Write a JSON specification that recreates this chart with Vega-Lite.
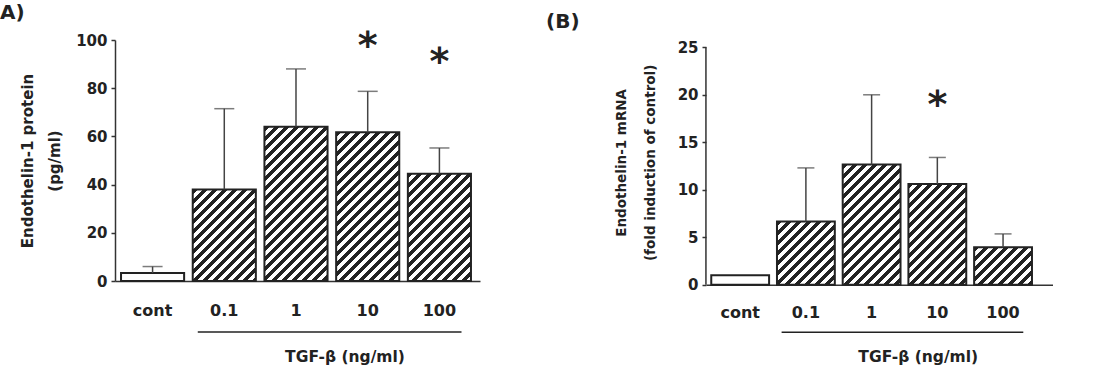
{
  "$schema": "https://vega.github.io/schema/vega-lite/v6.json",
  "padding": {"top": 3, "left": 0, "right": 0, "bottom": 0},
  "background": "white",
  "bounds": "flush",
  "spacing": 226,
  "config": {
    "font": "DejaVu Sans",
    "view": {"stroke": null},
    "axis": {
      "labelFont": "DejaVu Sans", "labelFontWeight": "bold", "labelColor": "#222",
      "titleFont": "DejaVu Sans", "titleFontWeight": "bold", "titleColor": "#222",
      "domainColor": "#333", "domainWidth": 1.5, "tickColor": "#333", "tickWidth": 1.5, "grid": false
    },
    "title": {"font": "DejaVu Sans", "fontSize": 20, "fontWeight": "bold", "color": "#222", "anchor": "start", "frame": "group"}
  },
  "hconcat": [
    {
      "width": 365,
      "height": 241,
      "title": {"text": "A)", "dx": -115, "offset": 5},
      "data": {"values": [
        {"dose": "cont", "mean": 3.3, "upper": 6.0, "sig": null, "sigY": null},
        {"dose": "0.1", "mean": 38.0, "upper": 71.5, "sig": null, "sigY": null},
        {"dose": "1", "mean": 64.0, "upper": 88.0, "sig": null, "sigY": null},
        {"dose": "10", "mean": 61.7, "upper": 78.7, "sig": "*", "sigY": 100},
        {"dose": "100", "mean": 44.5, "upper": 55.2, "sig": "*", "sigY": 93.5}
      ]},
      "layer": [
        {
          "mark": {"type": "bar", "stroke": "#222", "strokeWidth": 2},
          "encoding": {
            "x": {"field": "dose", "type": "nominal", "sort": ["cont", "0.1", "1", "10", "100"],
              "scale": {"domain": ["cont", "0.1", "1", "10", "100"], "paddingInner": 0.12, "paddingOuter": 0.105, "align": 0.4},
              "axis": {"title": null, "labelAngle": 0, "ticks": false, "labelPadding": 21, "labelFontSize": 16}},
            "y": {"field": "mean", "type": "quantitative",
              "scale": {"domain": [0, 100], "nice": false},
              "axis": {"title": ["Endothelin-1  protein", "(pg/ml)"], "values": [0, 20, 40, 60, 80, 100], "tickSize": 4,
                "labelFontSize": 15, "labelPadding": 4, "titleFontSize": 15, "titleLineHeight": 27, "titlePadding": 13}},
            "fill": {
              "condition": [
                {"test": "datum.dose === '0.1'", "value": {"gradient": "linear", "x1": 0, "y1": 0, "x2": 1.275, "y2": 1.851, "stops": [{"offset":0,"color":"#222"},{"offset":0.02,"color":"#222"},{"offset":0.02,"color":"#fff"},{"offset":0.04,"color":"#fff"},{"offset":0.04,"color":"#222"},{"offset":0.06,"color":"#222"},{"offset":0.06,"color":"#fff"},{"offset":0.08,"color":"#fff"},{"offset":0.08,"color":"#222"},{"offset":0.1,"color":"#222"},{"offset":0.1,"color":"#fff"},{"offset":0.12,"color":"#fff"},{"offset":0.12,"color":"#222"},{"offset":0.14,"color":"#222"},{"offset":0.14,"color":"#fff"},{"offset":0.16,"color":"#fff"},{"offset":0.16,"color":"#222"},{"offset":0.18,"color":"#222"},{"offset":0.18,"color":"#fff"},{"offset":0.2,"color":"#fff"},{"offset":0.2,"color":"#222"},{"offset":0.22,"color":"#222"},{"offset":0.22,"color":"#fff"},{"offset":0.24,"color":"#fff"},{"offset":0.24,"color":"#222"},{"offset":0.26,"color":"#222"},{"offset":0.26,"color":"#fff"},{"offset":0.28,"color":"#fff"},{"offset":0.28,"color":"#222"},{"offset":0.3,"color":"#222"},{"offset":0.3,"color":"#fff"},{"offset":0.32,"color":"#fff"},{"offset":0.32,"color":"#222"},{"offset":0.34,"color":"#222"},{"offset":0.34,"color":"#fff"},{"offset":0.36,"color":"#fff"},{"offset":0.36,"color":"#222"},{"offset":0.38,"color":"#222"},{"offset":0.38,"color":"#fff"},{"offset":0.4,"color":"#fff"},{"offset":0.4,"color":"#222"},{"offset":0.42,"color":"#222"},{"offset":0.42,"color":"#fff"},{"offset":0.44,"color":"#fff"},{"offset":0.44,"color":"#222"},{"offset":0.46,"color":"#222"},{"offset":0.46,"color":"#fff"},{"offset":0.48,"color":"#fff"},{"offset":0.48,"color":"#222"},{"offset":0.5,"color":"#222"},{"offset":0.5,"color":"#fff"},{"offset":0.52,"color":"#fff"},{"offset":0.52,"color":"#222"},{"offset":0.54,"color":"#222"},{"offset":0.54,"color":"#fff"},{"offset":0.56,"color":"#fff"},{"offset":0.56,"color":"#222"},{"offset":0.58,"color":"#222"},{"offset":0.58,"color":"#fff"},{"offset":0.6,"color":"#fff"},{"offset":0.6,"color":"#222"},{"offset":0.62,"color":"#222"},{"offset":0.62,"color":"#fff"},{"offset":0.64,"color":"#fff"},{"offset":0.64,"color":"#222"},{"offset":0.66,"color":"#222"},{"offset":0.66,"color":"#fff"},{"offset":0.68,"color":"#fff"},{"offset":0.68,"color":"#222"},{"offset":0.7,"color":"#222"},{"offset":0.7,"color":"#fff"},{"offset":0.72,"color":"#fff"}]}},
                {"test": "datum.dose === '1'", "value": {"gradient": "linear", "x1": 0, "y1": 0, "x2": 0.5683, "y2": 1.3887, "stops": [{"offset":0,"color":"#222"},{"offset":0.02,"color":"#222"},{"offset":0.02,"color":"#fff"},{"offset":0.04,"color":"#fff"},{"offset":0.04,"color":"#222"},{"offset":0.06,"color":"#222"},{"offset":0.06,"color":"#fff"},{"offset":0.08,"color":"#fff"},{"offset":0.08,"color":"#222"},{"offset":0.1,"color":"#222"},{"offset":0.1,"color":"#fff"},{"offset":0.12,"color":"#fff"},{"offset":0.12,"color":"#222"},{"offset":0.14,"color":"#222"},{"offset":0.14,"color":"#fff"},{"offset":0.16,"color":"#fff"},{"offset":0.16,"color":"#222"},{"offset":0.18,"color":"#222"},{"offset":0.18,"color":"#fff"},{"offset":0.2,"color":"#fff"},{"offset":0.2,"color":"#222"},{"offset":0.22,"color":"#222"},{"offset":0.22,"color":"#fff"},{"offset":0.24,"color":"#fff"},{"offset":0.24,"color":"#222"},{"offset":0.26,"color":"#222"},{"offset":0.26,"color":"#fff"},{"offset":0.28,"color":"#fff"},{"offset":0.28,"color":"#222"},{"offset":0.3,"color":"#222"},{"offset":0.3,"color":"#fff"},{"offset":0.32,"color":"#fff"},{"offset":0.32,"color":"#222"},{"offset":0.34,"color":"#222"},{"offset":0.34,"color":"#fff"},{"offset":0.36,"color":"#fff"},{"offset":0.36,"color":"#222"},{"offset":0.38,"color":"#222"},{"offset":0.38,"color":"#fff"},{"offset":0.4,"color":"#fff"},{"offset":0.4,"color":"#222"},{"offset":0.42,"color":"#222"},{"offset":0.42,"color":"#fff"},{"offset":0.44,"color":"#fff"},{"offset":0.44,"color":"#222"},{"offset":0.46,"color":"#222"},{"offset":0.46,"color":"#fff"},{"offset":0.48,"color":"#fff"},{"offset":0.48,"color":"#222"},{"offset":0.5,"color":"#222"},{"offset":0.5,"color":"#fff"},{"offset":0.52,"color":"#fff"},{"offset":0.52,"color":"#222"},{"offset":0.54,"color":"#222"},{"offset":0.54,"color":"#fff"},{"offset":0.56,"color":"#fff"},{"offset":0.56,"color":"#222"},{"offset":0.58,"color":"#222"},{"offset":0.58,"color":"#fff"},{"offset":0.6,"color":"#fff"},{"offset":0.6,"color":"#222"},{"offset":0.62,"color":"#222"},{"offset":0.62,"color":"#fff"},{"offset":0.64,"color":"#fff"},{"offset":0.64,"color":"#222"},{"offset":0.66,"color":"#222"},{"offset":0.66,"color":"#fff"},{"offset":0.68,"color":"#fff"},{"offset":0.68,"color":"#222"},{"offset":0.7,"color":"#222"},{"offset":0.7,"color":"#fff"},{"offset":0.72,"color":"#fff"},{"offset":0.72,"color":"#222"},{"offset":0.74,"color":"#222"},{"offset":0.74,"color":"#fff"},{"offset":0.76,"color":"#fff"},{"offset":0.76,"color":"#222"},{"offset":0.78,"color":"#222"},{"offset":0.78,"color":"#fff"},{"offset":0.8,"color":"#fff"},{"offset":0.8,"color":"#222"},{"offset":0.82,"color":"#222"},{"offset":0.82,"color":"#fff"},{"offset":0.84,"color":"#fff"},{"offset":0.84,"color":"#222"},{"offset":0.86,"color":"#222"},{"offset":0.86,"color":"#fff"},{"offset":0.88,"color":"#fff"},{"offset":0.88,"color":"#222"},{"offset":0.9,"color":"#222"},{"offset":0.9,"color":"#fff"},{"offset":0.92,"color":"#fff"},{"offset":0.92,"color":"#222"},{"offset":0.94,"color":"#222"},{"offset":0.94,"color":"#fff"},{"offset":0.96,"color":"#fff"}]}},
                {"test": "datum.dose === '10'", "value": {"gradient": "linear", "x1": 0, "y1": 0, "x2": 0.6046, "y2": 1.4247, "stops": [{"offset":0,"color":"#222"},{"offset":0.02,"color":"#222"},{"offset":0.02,"color":"#fff"},{"offset":0.04,"color":"#fff"},{"offset":0.04,"color":"#222"},{"offset":0.06,"color":"#222"},{"offset":0.06,"color":"#fff"},{"offset":0.08,"color":"#fff"},{"offset":0.08,"color":"#222"},{"offset":0.1,"color":"#222"},{"offset":0.1,"color":"#fff"},{"offset":0.12,"color":"#fff"},{"offset":0.12,"color":"#222"},{"offset":0.14,"color":"#222"},{"offset":0.14,"color":"#fff"},{"offset":0.16,"color":"#fff"},{"offset":0.16,"color":"#222"},{"offset":0.18,"color":"#222"},{"offset":0.18,"color":"#fff"},{"offset":0.2,"color":"#fff"},{"offset":0.2,"color":"#222"},{"offset":0.22,"color":"#222"},{"offset":0.22,"color":"#fff"},{"offset":0.24,"color":"#fff"},{"offset":0.24,"color":"#222"},{"offset":0.26,"color":"#222"},{"offset":0.26,"color":"#fff"},{"offset":0.28,"color":"#fff"},{"offset":0.28,"color":"#222"},{"offset":0.3,"color":"#222"},{"offset":0.3,"color":"#fff"},{"offset":0.32,"color":"#fff"},{"offset":0.32,"color":"#222"},{"offset":0.34,"color":"#222"},{"offset":0.34,"color":"#fff"},{"offset":0.36,"color":"#fff"},{"offset":0.36,"color":"#222"},{"offset":0.38,"color":"#222"},{"offset":0.38,"color":"#fff"},{"offset":0.4,"color":"#fff"},{"offset":0.4,"color":"#222"},{"offset":0.42,"color":"#222"},{"offset":0.42,"color":"#fff"},{"offset":0.44,"color":"#fff"},{"offset":0.44,"color":"#222"},{"offset":0.46,"color":"#222"},{"offset":0.46,"color":"#fff"},{"offset":0.48,"color":"#fff"},{"offset":0.48,"color":"#222"},{"offset":0.5,"color":"#222"},{"offset":0.5,"color":"#fff"},{"offset":0.52,"color":"#fff"},{"offset":0.52,"color":"#222"},{"offset":0.54,"color":"#222"},{"offset":0.54,"color":"#fff"},{"offset":0.56,"color":"#fff"},{"offset":0.56,"color":"#222"},{"offset":0.58,"color":"#222"},{"offset":0.58,"color":"#fff"},{"offset":0.6,"color":"#fff"},{"offset":0.6,"color":"#222"},{"offset":0.62,"color":"#222"},{"offset":0.62,"color":"#fff"},{"offset":0.64,"color":"#fff"},{"offset":0.64,"color":"#222"},{"offset":0.66,"color":"#222"},{"offset":0.66,"color":"#fff"},{"offset":0.68,"color":"#fff"},{"offset":0.68,"color":"#222"},{"offset":0.7,"color":"#222"},{"offset":0.7,"color":"#fff"},{"offset":0.72,"color":"#fff"},{"offset":0.72,"color":"#222"},{"offset":0.74,"color":"#222"},{"offset":0.74,"color":"#fff"},{"offset":0.76,"color":"#fff"},{"offset":0.76,"color":"#222"},{"offset":0.78,"color":"#222"},{"offset":0.78,"color":"#fff"},{"offset":0.8,"color":"#fff"},{"offset":0.8,"color":"#222"},{"offset":0.82,"color":"#222"},{"offset":0.82,"color":"#fff"},{"offset":0.84,"color":"#fff"},{"offset":0.84,"color":"#222"},{"offset":0.86,"color":"#222"},{"offset":0.86,"color":"#fff"},{"offset":0.88,"color":"#fff"},{"offset":0.88,"color":"#222"},{"offset":0.9,"color":"#222"},{"offset":0.9,"color":"#fff"},{"offset":0.92,"color":"#fff"},{"offset":0.92,"color":"#222"},{"offset":0.94,"color":"#222"},{"offset":0.94,"color":"#fff"},{"offset":0.96,"color":"#fff"}]}},
                {"test": "datum.dose === '100'", "value": {"gradient": "linear", "x1": 0, "y1": 0, "x2": 1.0195, "y2": 1.732, "stops": [{"offset":0,"color":"#222"},{"offset":0.02,"color":"#222"},{"offset":0.02,"color":"#fff"},{"offset":0.04,"color":"#fff"},{"offset":0.04,"color":"#222"},{"offset":0.06,"color":"#222"},{"offset":0.06,"color":"#fff"},{"offset":0.08,"color":"#fff"},{"offset":0.08,"color":"#222"},{"offset":0.1,"color":"#222"},{"offset":0.1,"color":"#fff"},{"offset":0.12,"color":"#fff"},{"offset":0.12,"color":"#222"},{"offset":0.14,"color":"#222"},{"offset":0.14,"color":"#fff"},{"offset":0.16,"color":"#fff"},{"offset":0.16,"color":"#222"},{"offset":0.18,"color":"#222"},{"offset":0.18,"color":"#fff"},{"offset":0.2,"color":"#fff"},{"offset":0.2,"color":"#222"},{"offset":0.22,"color":"#222"},{"offset":0.22,"color":"#fff"},{"offset":0.24,"color":"#fff"},{"offset":0.24,"color":"#222"},{"offset":0.26,"color":"#222"},{"offset":0.26,"color":"#fff"},{"offset":0.28,"color":"#fff"},{"offset":0.28,"color":"#222"},{"offset":0.3,"color":"#222"},{"offset":0.3,"color":"#fff"},{"offset":0.32,"color":"#fff"},{"offset":0.32,"color":"#222"},{"offset":0.34,"color":"#222"},{"offset":0.34,"color":"#fff"},{"offset":0.36,"color":"#fff"},{"offset":0.36,"color":"#222"},{"offset":0.38,"color":"#222"},{"offset":0.38,"color":"#fff"},{"offset":0.4,"color":"#fff"},{"offset":0.4,"color":"#222"},{"offset":0.42,"color":"#222"},{"offset":0.42,"color":"#fff"},{"offset":0.44,"color":"#fff"},{"offset":0.44,"color":"#222"},{"offset":0.46,"color":"#222"},{"offset":0.46,"color":"#fff"},{"offset":0.48,"color":"#fff"},{"offset":0.48,"color":"#222"},{"offset":0.5,"color":"#222"},{"offset":0.5,"color":"#fff"},{"offset":0.52,"color":"#fff"},{"offset":0.52,"color":"#222"},{"offset":0.54,"color":"#222"},{"offset":0.54,"color":"#fff"},{"offset":0.56,"color":"#fff"},{"offset":0.56,"color":"#222"},{"offset":0.58,"color":"#222"},{"offset":0.58,"color":"#fff"},{"offset":0.6,"color":"#fff"},{"offset":0.6,"color":"#222"},{"offset":0.62,"color":"#222"},{"offset":0.62,"color":"#fff"},{"offset":0.64,"color":"#fff"},{"offset":0.64,"color":"#222"},{"offset":0.66,"color":"#222"},{"offset":0.66,"color":"#fff"},{"offset":0.68,"color":"#fff"},{"offset":0.68,"color":"#222"},{"offset":0.7,"color":"#222"},{"offset":0.7,"color":"#fff"},{"offset":0.72,"color":"#fff"}]}}
              ],
              "value": "#fff"
            }
          }
        },
        {
          "mark": {"type": "rule", "color": "#444", "strokeWidth": 1.5},
          "encoding": {
            "x": {"field": "dose", "type": "nominal", "sort": ["cont", "0.1", "1", "10", "100"]},
            "y": {"field": "mean", "type": "quantitative"},
            "y2": {"field": "upper"}
          }
        },
        {
          "mark": {"type": "tick", "color": "#444", "thickness": 1.5, "size": 20},
          "encoding": {
            "x": {"field": "dose", "type": "nominal", "sort": ["cont", "0.1", "1", "10", "100"]},
            "y": {"field": "upper", "type": "quantitative"}
          }
        },
        {
          "mark": {"type": "text", "fontSize": 38, "fontWeight": "bold", "color": "#222", "baseline": "middle", "align": "center", "dy": 7},
          "encoding": {
            "x": {"field": "dose", "type": "nominal", "sort": ["cont", "0.1", "1", "10", "100"]},
            "y": {"field": "sigY", "type": "quantitative"},
            "text": {"field": "sig"}
          }
        },
        {
          "data": {"values": [{}]},
          "mark": {"type": "rule", "color": "#222", "strokeWidth": 1.5},
          "encoding": {
            "x": {"datum": "0.1", "bandPosition": 0.08},
            "x2": {"datum": "100", "bandPosition": 0.85},
            "y": {"datum": -21.2}
          }
        },
        {
          "data": {"values": [{}]},
          "mark": {"type": "text", "text": "TGF-β (ng/ml)", "fontSize": 15.5, "fontWeight": "bold", "color": "#222", "baseline": "middle", "align": "center"},
          "encoding": {
            "x": {"datum": "10", "bandPosition": 0.14},
            "y": {"datum": -31.5}
          }
        }
      ]
    },
    {
      "width": 347,
      "height": 244.7,
      "title": {"text": "(B)", "dx": -160, "offset": 8},
      "data": {"values": [
        {"dose": "cont", "mean": 1.0, "upper": null, "sig": null, "sigY": null},
        {"dose": "0.1", "mean": 6.65, "upper": 12.3, "sig": null, "sigY": null},
        {"dose": "1", "mean": 12.65, "upper": 20.0, "sig": null, "sigY": null},
        {"dose": "10", "mean": 10.6, "upper": 13.4, "sig": "*", "sigY": 19.6},
        {"dose": "100", "mean": 3.95, "upper": 5.35, "sig": null, "sigY": null}
      ]},
      "layer": [
        {
          "mark": {"type": "bar", "stroke": "#222", "strokeWidth": 2},
          "encoding": {
            "x": {"field": "dose", "type": "nominal", "sort": ["cont", "0.1", "1", "10", "100"],
              "scale": {"domain": ["cont", "0.1", "1", "10", "100"], "paddingInner": 0.12, "paddingOuter": 0.2, "align": 0.2},
              "axis": {"title": null, "labelAngle": 0, "ticks": false, "labelPadding": 20, "labelFontSize": 16}},
            "y": {"field": "mean", "type": "quantitative",
              "scale": {"domain": [0, 25.77], "nice": false},
              "axis": {"title": ["Endothelin-1 mRNA", "(fold induction of control)"], "values": [0, 5, 10, 15, 20, 25], "tickSize": 4, "domain": false,
                "labelFontSize": 15, "labelPadding": 4, "titleFontSize": 13.5, "titleLineHeight": 29, "titlePadding": 20}},
            "fill": {
              "condition": [
                {"test": "datum.dose === '0.1'", "value": {"gradient": "linear", "x1": 0, "y1": 0, "x2": 1.9768, "y2": 2.1546, "stops": [{"offset":0,"color":"#222"},{"offset":0.02,"color":"#222"},{"offset":0.02,"color":"#fff"},{"offset":0.04,"color":"#fff"},{"offset":0.04,"color":"#222"},{"offset":0.06,"color":"#222"},{"offset":0.06,"color":"#fff"},{"offset":0.08,"color":"#fff"},{"offset":0.08,"color":"#222"},{"offset":0.1,"color":"#222"},{"offset":0.1,"color":"#fff"},{"offset":0.12,"color":"#fff"},{"offset":0.12,"color":"#222"},{"offset":0.14,"color":"#222"},{"offset":0.14,"color":"#fff"},{"offset":0.16,"color":"#fff"},{"offset":0.16,"color":"#222"},{"offset":0.18,"color":"#222"},{"offset":0.18,"color":"#fff"},{"offset":0.2,"color":"#fff"},{"offset":0.2,"color":"#222"},{"offset":0.22,"color":"#222"},{"offset":0.22,"color":"#fff"},{"offset":0.24,"color":"#fff"},{"offset":0.24,"color":"#222"},{"offset":0.26,"color":"#222"},{"offset":0.26,"color":"#fff"},{"offset":0.28,"color":"#fff"},{"offset":0.28,"color":"#222"},{"offset":0.3,"color":"#222"},{"offset":0.3,"color":"#fff"},{"offset":0.32,"color":"#fff"},{"offset":0.32,"color":"#222"},{"offset":0.34,"color":"#222"},{"offset":0.34,"color":"#fff"},{"offset":0.36,"color":"#fff"},{"offset":0.36,"color":"#222"},{"offset":0.38,"color":"#222"},{"offset":0.38,"color":"#fff"},{"offset":0.4,"color":"#fff"},{"offset":0.4,"color":"#222"},{"offset":0.42,"color":"#222"},{"offset":0.42,"color":"#fff"},{"offset":0.44,"color":"#fff"},{"offset":0.44,"color":"#222"},{"offset":0.46,"color":"#222"},{"offset":0.46,"color":"#fff"},{"offset":0.48,"color":"#fff"},{"offset":0.48,"color":"#222"},{"offset":0.5,"color":"#222"},{"offset":0.5,"color":"#fff"},{"offset":0.52,"color":"#fff"},{"offset":0.52,"color":"#222"},{"offset":0.54,"color":"#222"},{"offset":0.54,"color":"#fff"},{"offset":0.56,"color":"#fff"},{"offset":0.56,"color":"#222"},{"offset":0.58,"color":"#222"},{"offset":0.58,"color":"#fff"},{"offset":0.6,"color":"#fff"},{"offset":0.6,"color":"#222"},{"offset":0.62,"color":"#222"},{"offset":0.62,"color":"#fff"},{"offset":0.64,"color":"#fff"},{"offset":0.64,"color":"#222"},{"offset":0.66,"color":"#222"},{"offset":0.66,"color":"#fff"},{"offset":0.68,"color":"#fff"},{"offset":0.68,"color":"#222"},{"offset":0.7,"color":"#222"},{"offset":0.7,"color":"#fff"},{"offset":0.72,"color":"#fff"}]}},
                {"test": "datum.dose === '1'", "value": {"gradient": "linear", "x1": 0, "y1": 0, "x2": 0.8156, "y2": 1.6919, "stops": [{"offset":0,"color":"#222"},{"offset":0.02,"color":"#222"},{"offset":0.02,"color":"#fff"},{"offset":0.04,"color":"#fff"},{"offset":0.04,"color":"#222"},{"offset":0.06,"color":"#222"},{"offset":0.06,"color":"#fff"},{"offset":0.08,"color":"#fff"},{"offset":0.08,"color":"#222"},{"offset":0.1,"color":"#222"},{"offset":0.1,"color":"#fff"},{"offset":0.12,"color":"#fff"},{"offset":0.12,"color":"#222"},{"offset":0.14,"color":"#222"},{"offset":0.14,"color":"#fff"},{"offset":0.16,"color":"#fff"},{"offset":0.16,"color":"#222"},{"offset":0.18,"color":"#222"},{"offset":0.18,"color":"#fff"},{"offset":0.2,"color":"#fff"},{"offset":0.2,"color":"#222"},{"offset":0.22,"color":"#222"},{"offset":0.22,"color":"#fff"},{"offset":0.24,"color":"#fff"},{"offset":0.24,"color":"#222"},{"offset":0.26,"color":"#222"},{"offset":0.26,"color":"#fff"},{"offset":0.28,"color":"#fff"},{"offset":0.28,"color":"#222"},{"offset":0.3,"color":"#222"},{"offset":0.3,"color":"#fff"},{"offset":0.32,"color":"#fff"},{"offset":0.32,"color":"#222"},{"offset":0.34,"color":"#222"},{"offset":0.34,"color":"#fff"},{"offset":0.36,"color":"#fff"},{"offset":0.36,"color":"#222"},{"offset":0.38,"color":"#222"},{"offset":0.38,"color":"#fff"},{"offset":0.4,"color":"#fff"},{"offset":0.4,"color":"#222"},{"offset":0.42,"color":"#222"},{"offset":0.42,"color":"#fff"},{"offset":0.44,"color":"#fff"},{"offset":0.44,"color":"#222"},{"offset":0.46,"color":"#222"},{"offset":0.46,"color":"#fff"},{"offset":0.48,"color":"#fff"},{"offset":0.48,"color":"#222"},{"offset":0.5,"color":"#222"},{"offset":0.5,"color":"#fff"},{"offset":0.52,"color":"#fff"},{"offset":0.52,"color":"#222"},{"offset":0.54,"color":"#222"},{"offset":0.54,"color":"#fff"},{"offset":0.56,"color":"#fff"},{"offset":0.56,"color":"#222"},{"offset":0.58,"color":"#222"},{"offset":0.58,"color":"#fff"},{"offset":0.6,"color":"#fff"},{"offset":0.6,"color":"#222"},{"offset":0.62,"color":"#222"},{"offset":0.62,"color":"#fff"},{"offset":0.64,"color":"#fff"},{"offset":0.64,"color":"#222"},{"offset":0.66,"color":"#222"},{"offset":0.66,"color":"#fff"},{"offset":0.68,"color":"#fff"},{"offset":0.68,"color":"#222"},{"offset":0.7,"color":"#222"},{"offset":0.7,"color":"#fff"},{"offset":0.72,"color":"#fff"},{"offset":0.72,"color":"#222"},{"offset":0.74,"color":"#222"},{"offset":0.74,"color":"#fff"},{"offset":0.76,"color":"#fff"},{"offset":0.76,"color":"#222"},{"offset":0.78,"color":"#222"},{"offset":0.78,"color":"#fff"},{"offset":0.8,"color":"#fff"},{"offset":0.8,"color":"#222"},{"offset":0.82,"color":"#222"},{"offset":0.82,"color":"#fff"},{"offset":0.84,"color":"#fff"}]}},
                {"test": "datum.dose === '10'", "value": {"gradient": "linear", "x1": 0, "y1": 0, "x2": 1.0751, "y2": 1.8693, "stops": [{"offset":0,"color":"#222"},{"offset":0.02,"color":"#222"},{"offset":0.02,"color":"#fff"},{"offset":0.04,"color":"#fff"},{"offset":0.04,"color":"#222"},{"offset":0.06,"color":"#222"},{"offset":0.06,"color":"#fff"},{"offset":0.08,"color":"#fff"},{"offset":0.08,"color":"#222"},{"offset":0.1,"color":"#222"},{"offset":0.1,"color":"#fff"},{"offset":0.12,"color":"#fff"},{"offset":0.12,"color":"#222"},{"offset":0.14,"color":"#222"},{"offset":0.14,"color":"#fff"},{"offset":0.16,"color":"#fff"},{"offset":0.16,"color":"#222"},{"offset":0.18,"color":"#222"},{"offset":0.18,"color":"#fff"},{"offset":0.2,"color":"#fff"},{"offset":0.2,"color":"#222"},{"offset":0.22,"color":"#222"},{"offset":0.22,"color":"#fff"},{"offset":0.24,"color":"#fff"},{"offset":0.24,"color":"#222"},{"offset":0.26,"color":"#222"},{"offset":0.26,"color":"#fff"},{"offset":0.28,"color":"#fff"},{"offset":0.28,"color":"#222"},{"offset":0.3,"color":"#222"},{"offset":0.3,"color":"#fff"},{"offset":0.32,"color":"#fff"},{"offset":0.32,"color":"#222"},{"offset":0.34,"color":"#222"},{"offset":0.34,"color":"#fff"},{"offset":0.36,"color":"#fff"},{"offset":0.36,"color":"#222"},{"offset":0.38,"color":"#222"},{"offset":0.38,"color":"#fff"},{"offset":0.4,"color":"#fff"},{"offset":0.4,"color":"#222"},{"offset":0.42,"color":"#222"},{"offset":0.42,"color":"#fff"},{"offset":0.44,"color":"#fff"},{"offset":0.44,"color":"#222"},{"offset":0.46,"color":"#222"},{"offset":0.46,"color":"#fff"},{"offset":0.48,"color":"#fff"},{"offset":0.48,"color":"#222"},{"offset":0.5,"color":"#222"},{"offset":0.5,"color":"#fff"},{"offset":0.52,"color":"#fff"},{"offset":0.52,"color":"#222"},{"offset":0.54,"color":"#222"},{"offset":0.54,"color":"#fff"},{"offset":0.56,"color":"#fff"},{"offset":0.56,"color":"#222"},{"offset":0.58,"color":"#222"},{"offset":0.58,"color":"#fff"},{"offset":0.6,"color":"#fff"},{"offset":0.6,"color":"#222"},{"offset":0.62,"color":"#222"},{"offset":0.62,"color":"#fff"},{"offset":0.64,"color":"#fff"},{"offset":0.64,"color":"#222"},{"offset":0.66,"color":"#222"},{"offset":0.66,"color":"#fff"},{"offset":0.68,"color":"#fff"},{"offset":0.68,"color":"#222"},{"offset":0.7,"color":"#222"},{"offset":0.7,"color":"#fff"},{"offset":0.72,"color":"#fff"}]}},
                {"test": "datum.dose === '100'", "value": {"gradient": "linear", "x1": 0, "y1": 0, "x2": 3.0488, "y2": 1.9728, "stops": [{"offset":0,"color":"#222"},{"offset":0.02,"color":"#222"},{"offset":0.02,"color":"#fff"},{"offset":0.04,"color":"#fff"},{"offset":0.04,"color":"#222"},{"offset":0.06,"color":"#222"},{"offset":0.06,"color":"#fff"},{"offset":0.08,"color":"#fff"},{"offset":0.08,"color":"#222"},{"offset":0.1,"color":"#222"},{"offset":0.1,"color":"#fff"},{"offset":0.12,"color":"#fff"},{"offset":0.12,"color":"#222"},{"offset":0.14,"color":"#222"},{"offset":0.14,"color":"#fff"},{"offset":0.16,"color":"#fff"},{"offset":0.16,"color":"#222"},{"offset":0.18,"color":"#222"},{"offset":0.18,"color":"#fff"},{"offset":0.2,"color":"#fff"},{"offset":0.2,"color":"#222"},{"offset":0.22,"color":"#222"},{"offset":0.22,"color":"#fff"},{"offset":0.24,"color":"#fff"},{"offset":0.24,"color":"#222"},{"offset":0.26,"color":"#222"},{"offset":0.26,"color":"#fff"},{"offset":0.28,"color":"#fff"},{"offset":0.28,"color":"#222"},{"offset":0.3,"color":"#222"},{"offset":0.3,"color":"#fff"},{"offset":0.32,"color":"#fff"},{"offset":0.32,"color":"#222"},{"offset":0.34,"color":"#222"},{"offset":0.34,"color":"#fff"},{"offset":0.36,"color":"#fff"},{"offset":0.36,"color":"#222"},{"offset":0.38,"color":"#222"},{"offset":0.38,"color":"#fff"},{"offset":0.4,"color":"#fff"},{"offset":0.4,"color":"#222"},{"offset":0.42,"color":"#222"},{"offset":0.42,"color":"#fff"},{"offset":0.44,"color":"#fff"},{"offset":0.44,"color":"#222"},{"offset":0.46,"color":"#222"},{"offset":0.46,"color":"#fff"},{"offset":0.48,"color":"#fff"}]}}
              ],
              "value": "#fff"
            }
          }
        },
        {
          "data": {"values": [{}]},
          "mark": {"type": "rule", "color": "#333", "strokeWidth": 1.5},
          "encoding": {
            "x": {"datum": "cont", "bandPosition": -0.092},
            "y": {"datum": 0},
            "y2": {"datum": 25}
          }
        },
        {
          "mark": {"type": "rule", "color": "#444", "strokeWidth": 1.5},
          "encoding": {
            "x": {"field": "dose", "type": "nominal", "sort": ["cont", "0.1", "1", "10", "100"]},
            "y": {"field": "mean", "type": "quantitative"},
            "y2": {"field": "upper"}
          }
        },
        {
          "mark": {"type": "tick", "color": "#444", "thickness": 1.5, "size": 17},
          "encoding": {
            "x": {"field": "dose", "type": "nominal", "sort": ["cont", "0.1", "1", "10", "100"]},
            "y": {"field": "upper", "type": "quantitative"}
          }
        },
        {
          "mark": {"type": "text", "fontSize": 38, "fontWeight": "bold", "color": "#222", "baseline": "middle", "align": "center", "dy": 7},
          "encoding": {
            "x": {"field": "dose", "type": "nominal", "sort": ["cont", "0.1", "1", "10", "100"]},
            "y": {"field": "sigY", "type": "quantitative"},
            "text": {"field": "sig"}
          }
        },
        {
          "data": {"values": [{}]},
          "mark": {"type": "rule", "color": "#222", "strokeWidth": 1.5},
          "encoding": {
            "x": {"datum": "0.1", "bandPosition": 0.08},
            "x2": {"datum": "100", "bandPosition": 0.85},
            "y": {"datum": -5.0}
          }
        },
        {
          "data": {"values": [{}]},
          "mark": {"type": "text", "text": "TGF-β (ng/ml)", "fontSize": 15.5, "fontWeight": "bold", "color": "#222", "baseline": "middle", "align": "center"},
          "encoding": {
            "x": {"datum": "10", "bandPosition": 0.17},
            "y": {"datum": -7.6}
          }
        }
      ]
    }
  ]
}
